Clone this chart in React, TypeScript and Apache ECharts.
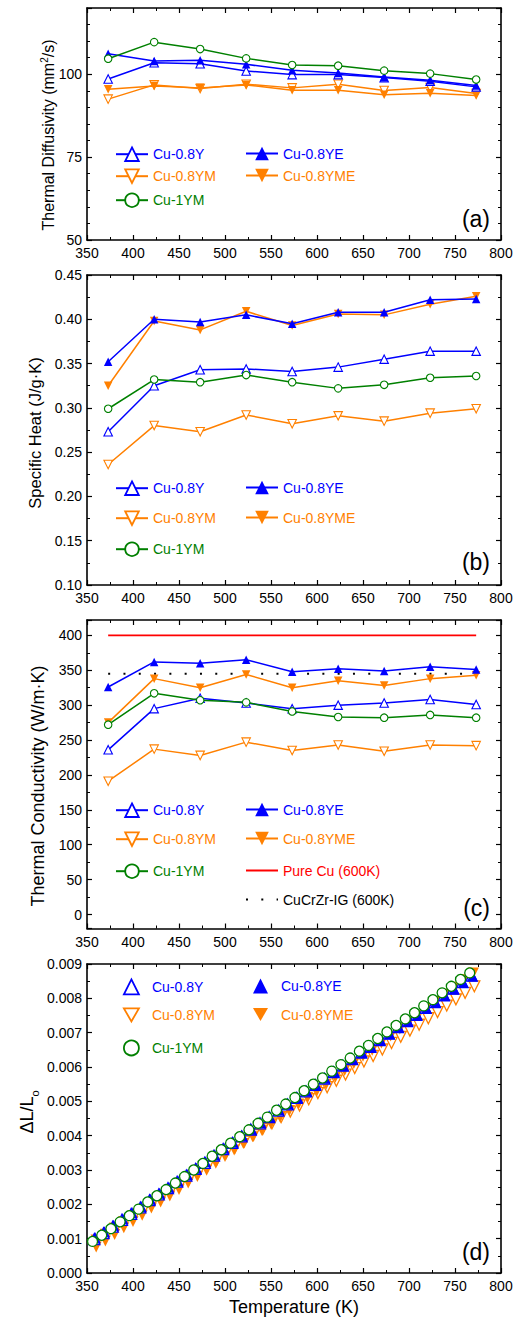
import React, { useEffect, useRef } from 'react';
import * as echarts from 'echarts';

const BLUE = '#0000ff';
const ORANGE = '#ff8000';
const GREEN = '#008000';
const RED = '#ff0000';
const FONT = '"Liberation Sans", Arial, sans-serif';

// ---------- Panels (a)-(c): measurement temperatures (K) ----------
const tempsK = [373, 423, 473, 523, 573, 623, 673, 723, 773];

// (a) Thermal diffusivity (mm^2/s)
const diffY = [98.6, 103.5, 103.2, 101.0, 99.9, 99.9, 99.0, 97.9, 96.2];
const diffYE = [106.2, 104.0, 104.2, 103.0, 101.2, 100.4, 99.2, 98.2, 96.6];
const diffYM = [92.5, 96.8, 95.7, 97.0, 95.9, 97.0, 95.1, 96.0, 94.2];
const diffYME = [95.5, 96.5, 95.9, 96.8, 95.2, 95.2, 93.8, 94.3, 93.6];
const diff1YM = [104.7, 109.7, 107.6, 104.8, 102.8, 102.6, 101.1, 100.2, 98.4];

// (b) Specific heat (J/g·K)
const cpY = [0.273, 0.325, 0.343, 0.344, 0.341, 0.346, 0.355, 0.364, 0.364];
const cpYE = [0.352, 0.4, 0.397, 0.405, 0.395, 0.408, 0.408, 0.422, 0.423];
const cpYM = [0.236, 0.28, 0.273, 0.292, 0.282, 0.291, 0.285, 0.294, 0.299];
const cpYME = [0.325, 0.398, 0.388, 0.409, 0.393, 0.406, 0.405, 0.417, 0.426];
const cp1YM = [0.299, 0.332, 0.329, 0.337, 0.329, 0.322, 0.326, 0.334, 0.336];

// (c) Thermal conductivity (W/m·K)
const kY = [236, 295, 310, 303, 295, 300, 303, 308, 301];
const kYE = [326, 362, 360, 365, 348, 352, 349, 355, 351];
const kYM = [191, 237, 228, 247, 235, 243, 234, 243, 242];
const kYME = [275, 338, 325, 344, 325, 335, 328, 338, 343];
const k1YM = [272, 317, 307, 304, 291, 283, 282, 286, 282];
const refT = [373, 773];
const pureCuK = [400, 400];
const cucrzrK = [345, 345];

// (d) Thermal expansion dL/Lo
const dT1YM = [356, 366, 376, 386, 396, 406, 416, 426, 436, 446, 456, 466, 476, 486, 496, 506, 516, 526, 536, 546, 556, 566, 576, 586, 596, 606, 616, 626, 636, 646, 656, 666, 676, 686, 696, 706, 716, 726, 736, 746, 756, 766];
const dTY = [358, 368, 378, 388, 398, 408, 418, 428, 438, 448, 458, 468, 478, 488, 498, 508, 518, 528, 538, 548, 558, 568, 578, 588, 598, 608, 618, 628, 638, 648, 658, 668, 678, 688, 698, 708, 718, 728, 738, 748, 758, 768];
const dTYE = [359, 369, 379, 389, 399, 409, 419, 429, 439, 449, 459, 469, 479, 489, 499, 509, 519, 529, 539, 549, 559, 569, 579, 589, 599, 609, 619, 629, 639, 649, 659, 669, 679, 689, 699, 709, 719, 729, 739, 749, 759, 769];
const dTYME = [360, 370, 380, 390, 400, 410, 420, 430, 440, 450, 460, 470, 480, 490, 500, 510, 520, 530, 540, 550, 560, 570, 580, 590, 600, 610, 620, 630, 640, 650, 660, 670, 680, 690, 700, 710, 720, 730, 740, 750, 760, 770];
const dTYM = [361, 371, 381, 391, 401, 411, 421, 431, 441, 451, 461, 471, 481, 491, 501, 511, 521, 531, 541, 551, 561, 571, 581, 591, 601, 611, 621, 631, 641, 651, 661, 671, 681, 691, 701, 711, 721, 731, 741, 751, 761, 771];
const dl1YM = [0.00092, 0.0011, 0.00129, 0.00149, 0.00167, 0.00186, 0.00207, 0.00225, 0.00243, 0.00262, 0.00281, 0.003, 0.00319, 0.0034, 0.00359, 0.00378, 0.00397, 0.00417, 0.00436, 0.00454, 0.00474, 0.00492, 0.00511, 0.00531, 0.0055, 0.00568, 0.00588, 0.00607, 0.00626, 0.00646, 0.00663, 0.00683, 0.00702, 0.00721, 0.0074, 0.00758, 0.00778, 0.00796, 0.00816, 0.00835, 0.00855, 0.00874];
const dlYE = [0.00103, 0.0012, 0.00139, 0.00158, 0.00176, 0.00194, 0.00215, 0.00232, 0.0025, 0.00268, 0.00287, 0.00305, 0.00324, 0.00344, 0.00363, 0.00381, 0.004, 0.00419, 0.00438, 0.00455, 0.00475, 0.00492, 0.00511, 0.0053, 0.00549, 0.00567, 0.00586, 0.00604, 0.00623, 0.00642, 0.00659, 0.00679, 0.00697, 0.00716, 0.00734, 0.00752, 0.00771, 0.00789, 0.00808, 0.00827, 0.00846, 0.00865];
const dlY = [0.00099, 0.00116, 0.00135, 0.00155, 0.00172, 0.00191, 0.00212, 0.00229, 0.00247, 0.00266, 0.00284, 0.00303, 0.00321, 0.00342, 0.00361, 0.00379, 0.00398, 0.00418, 0.00436, 0.00454, 0.00473, 0.00491, 0.0051, 0.00529, 0.00548, 0.00566, 0.00585, 0.00604, 0.00623, 0.00642, 0.00659, 0.00678, 0.00697, 0.00716, 0.00734, 0.00752, 0.00772, 0.00789, 0.00809, 0.00828, 0.00847, 0.00866];
const dlYME = [0.00076, 0.00093, 0.00112, 0.00132, 0.0015, 0.00168, 0.00189, 0.00207, 0.00224, 0.00243, 0.00262, 0.00281, 0.00299, 0.0032, 0.00339, 0.00358, 0.00377, 0.00397, 0.00416, 0.00434, 0.00454, 0.00473, 0.00492, 0.00512, 0.00531, 0.0055, 0.0057, 0.0059, 0.0061, 0.00631, 0.00649, 0.0067, 0.0069, 0.00711, 0.00731, 0.0075, 0.00771, 0.00791, 0.00812, 0.00832, 0.00854, 0.00874];
const dlYM = [0.00094, 0.00111, 0.00129, 0.00148, 0.00165, 0.00183, 0.00203, 0.00221, 0.00238, 0.00256, 0.00274, 0.00292, 0.0031, 0.0033, 0.00349, 0.00366, 0.00383, 0.00402, 0.00419, 0.00436, 0.00454, 0.0047, 0.00488, 0.00506, 0.00524, 0.00541, 0.0056, 0.00578, 0.00597, 0.00616, 0.00632, 0.00651, 0.0067, 0.00688, 0.00706, 0.00723, 0.00742, 0.0076, 0.00779, 0.00797, 0.00816, 0.00835];

// ---------- styling ----------
type Sty = { color: string; symbol: string; rotate: number; open: boolean; z: number };
const STY: Record<string, Sty> = {
  'Cu-0.8Y': { color: BLUE, symbol: 'triangle', rotate: 0, open: true, z: 4 },
  'Cu-0.8YE': { color: BLUE, symbol: 'triangle', rotate: 0, open: false, z: 5 },
  'Cu-0.8YM': { color: ORANGE, symbol: 'triangle', rotate: 180, open: true, z: 2 },
  'Cu-0.8YME': { color: ORANGE, symbol: 'triangle', rotate: 180, open: false, z: 3 },
  'Cu-1YM': { color: GREEN, symbol: 'circle', rotate: 0, open: true, z: 6 },
};
const DOWN_TRIANGLE = 'path://M0,0L30,0L15,26Z';

const GRIDS = [
  { top: 8, height: 232 },
  { top: 275, height: 310 },
  { top: 620, height: 308.5 },
  { top: 964, height: 309 },
];

const axisLine = { show: true, onZero: false, lineStyle: { color: '#000', width: 1.6 } };
const axisTick = { show: true, inside: true, length: 5, lineStyle: { color: '#000', width: 1.2 } };
const minorTick = (n: number) => ({ show: true, splitNumber: n, length: 3, lineStyle: { color: '#000', width: 1 } });
const labelStyle = { fontSize: 14, color: '#000', fontFamily: FONT };

function xAxes(g: number) {
  const base: any = {
    type: 'value', gridIndex: g, min: 350, max: 800, interval: 50,
    axisLine, axisTick, minorTick: minorTick(2), splitLine: { show: false },
  };
  return [
    { ...base, position: 'bottom', axisLabel: { ...labelStyle, show: true, margin: 6 } },
    { ...base, position: 'top', axisLabel: { show: false } },
  ];
}

function yAxes(g: number, cfg: any, minorN: number, fmt: (v: number) => string) {
  const base: any = {
    type: 'value', gridIndex: g, axisLine, axisTick, minorTick: minorTick(minorN), splitLine: { show: false }, ...cfg,
  };
  return [
    {
      ...base, position: 'left',
      axisLabel: { ...labelStyle, show: true, margin: 5, formatter: fmt, showMinLabel: cfg.showMinLabel, showMaxLabel: cfg.showMaxLabel },
    },
    { ...base, position: 'right', axisLabel: { show: false } },
  ];
}

function lineSeries(panel: string, name: string, g: number, xs: number[], ys: number[]) {
  const s = STY[name];
  return {
    type: 'line', name: panel + ':' + name, xAxisIndex: g * 2, yAxisIndex: g * 2,
    data: xs.map((x, i) => [x, ys[i]]),
    symbol: s.symbol, symbolRotate: s.rotate, symbolSize: s.symbol === 'circle' ? 7.5 : 8.5,
    lineStyle: { color: s.color, width: 1.5 },
    itemStyle: { color: s.open ? '#fff' : s.color, borderColor: s.color, borderWidth: s.open ? 1.1 : 0 },
    z: s.z, animation: false,
  };
}

function scatterSeries(name: string, xs: number[], ys: number[]) {
  const s = STY[name];
  return {
    type: 'scatter', name: 'd:' + name, xAxisIndex: 6, yAxisIndex: 6,
    data: xs.map((x, i) => [x, ys[i]]),
    symbol: s.symbol, symbolRotate: s.rotate, symbolSize: s.symbol === 'circle' ? 10 : 11,
    itemStyle: { color: s.open ? '#fff' : s.color, borderColor: s.color, borderWidth: s.open ? 1.3 : 0, opacity: 1 },
    z: s.z, animation: false,
  };
}

function legend(seriesName: string, color: string, left: number, cy: number, opts: any = {}) {
  const scatter = !!opts.scatter;
  const ih = scatter ? 15 : 17;
  const itemStyle: any = {};
  if (opts.hideSymbol) itemStyle.opacity = 0;
  else itemStyle.borderWidth = opts.open ? 1.8 : 0;
  return {
    show: true, left, top: cy - ih / 2, padding: 0, orient: 'horizontal',
    itemWidth: scatter ? 15 : 32, itemHeight: ih, symbolKeepAspect: true,
    data: [opts.icon ? { name: seriesName, icon: opts.icon } : seriesName], selectedMode: false,
    formatter: (n: string) => n.slice(n.indexOf(':') + 1),
    textStyle: { color, fontSize: 14, fontFamily: FONT, padding: scatter ? [0, 0, 0, 8] : 0 },
    itemStyle,
  };
}

const COL1 = 115;
const COL2 = 245;
const ROWS_A = [155, 177, 201];
const ROWS_B = [489, 519, 550];
const ROWS_C = [811, 840, 872, 901];
const ROWS_D = [986, 1015, 1047];

function legendSet(panel: string, rows: number[], scatter = false) {
  const c1 = scatter ? 123 : COL1;
  const c2 = scatter ? 253 : COL2;
  const down = scatter ? DOWN_TRIANGLE : undefined;
  return [
    legend(panel + ':Cu-0.8Y', BLUE, c1, rows[0], { open: true, scatter }),
    legend(panel + ':Cu-0.8YE', BLUE, c2, rows[0], { open: false, scatter }),
    legend(panel + ':Cu-0.8YM', ORANGE, c1, rows[1], { open: true, scatter, icon: down }),
    legend(panel + ':Cu-0.8YME', ORANGE, c2, rows[1], { open: false, scatter, icon: down }),
    legend(panel + ':Cu-1YM', GREEN, c1, rows[2], { open: true, scatter }),
  ];
}

function vTitle(x: number, y: number, text: string, rich: any) {
  return {
    type: 'text', x, y, rotation: Math.PI / 2,
    style: { text, rich, align: 'center', verticalAlign: 'middle', fontFamily: FONT, fill: '#000' },
  };
}

function panelLabel(y: number, t: string) {
  return {
    type: 'text', x: 490, y,
    style: { text: t, fontSize: 23, fontFamily: FONT, fill: '#000', align: 'right', verticalAlign: 'middle' },
  };
}

export default function App() {
  const ref = useRef<HTMLDivElement>(null);
  useEffect(() => {
    if (!ref.current) return;
    const chart = echarts.init(ref.current, null, { renderer: 'svg' });
    const names = ['Cu-0.8Y', 'Cu-0.8YE', 'Cu-0.8YM', 'Cu-0.8YME', 'Cu-1YM'];
    const aData = [diffY, diffYE, diffYM, diffYME, diff1YM];
    const bData = [cpY, cpYE, cpYM, cpYME, cp1YM];
    const cData = [kY, kYE, kYM, kYME, k1YM];
    const dX = [dTY, dTYE, dTYM, dTYME, dT1YM];
    const dY = [dlY, dlYE, dlYM, dlYME, dl1YM];

    const series: any[] = [];
    names.forEach((n, i) => series.push(lineSeries('a', n, 0, tempsK, aData[i])));
    names.forEach((n, i) => series.push(lineSeries('b', n, 1, tempsK, bData[i])));
    names.forEach((n, i) => series.push(lineSeries('c', n, 2, tempsK, cData[i])));
    series.push({
      type: 'line', name: 'c:Pure Cu (600K)', xAxisIndex: 4, yAxisIndex: 4,
      data: refT.map((x, i) => [x, pureCuK[i]]), symbol: 'none',
      lineStyle: { color: RED, width: 1.6 }, itemStyle: { color: RED }, z: 1,
    });
    series.push({
      type: 'line', name: 'c:CuCrZr-IG (600K)', xAxisIndex: 4, yAxisIndex: 4,
      data: refT.map((x, i) => [x, cucrzrK[i]]), symbol: 'none',
      lineStyle: { color: '#000', width: 2, type: [2, 13.3] }, itemStyle: { color: '#000' }, z: 1,
    });
    names.forEach((n, i) => series.push(scatterSeries(n, dX[i], dY[i])));

    const legends: any[] = [
      ...legendSet('a', ROWS_A),
      ...legendSet('b', ROWS_B),
      ...legendSet('c', ROWS_C),
      legend('c:Pure Cu (600K)', RED, COL2, ROWS_C[2], { hideSymbol: true }),
      legend('c:CuCrZr-IG (600K)', '#000', COL2, ROWS_C[3], { hideSymbol: true }),
      ...legendSet('d', ROWS_D, true),
    ];

    const option: any = {
      animation: false,
      backgroundColor: '#fff',
      textStyle: { fontFamily: FONT },
      grid: GRIDS.map((g) => ({ left: 87, right: 12, top: g.top, height: g.height, outerBoundsMode: 'none', containLabel: false })),
      xAxis: [...xAxes(0), ...xAxes(1), ...xAxes(2), ...xAxes(3)],
      yAxis: [
        ...yAxes(0, { min: 50, max: 120, interval: 25, showMaxLabel: false }, 5, (v) => String(v)),
        ...yAxes(1, { min: 0.1, max: 0.45, interval: 0.05 }, 2, (v) => v.toFixed(2)),
        ...yAxes(2, { min: -20, max: 422, splitNumber: 9, minInterval: 50, maxInterval: 50, showMinLabel: false, showMaxLabel: false }, 2, (v) => String(Math.round(v))),
        ...yAxes(3, { min: 0, max: 0.009, interval: 0.001 }, 2, (v) => v.toFixed(3)),
      ],
      legend: legends,
      series,
      graphic: [
        vTitle(46, 135, '{a|Thermal Diffusivity (mm}{s|2}{a|/s)}', {
          a: { fontSize: 16, fontFamily: FONT, lineHeight: 20, verticalAlign: 'bottom' },
          s: { fontSize: 10, fontFamily: FONT, lineHeight: 20, verticalAlign: 'bottom', padding: [0, 0, 7, 0] },
        }),
        vTitle(35, 433, '{a|Specific Heat (J/g·K)}', { a: { fontSize: 16.5, fontFamily: FONT } }),
        vTitle(38, 786, '{a|Thermal Conductivity (W/m·K)}', { a: { fontSize: 18, fontFamily: FONT } }),
        vTitle(25, 1112, '{a|ΔL/L}{s|o}', {
          a: { fontSize: 18, fontFamily: FONT, lineHeight: 22, verticalAlign: 'bottom' },
          s: { fontSize: 11, fontFamily: FONT, lineHeight: 22, verticalAlign: 'bottom', padding: [0, 0, -4, 0] },
        }),
        {
          type: 'text', x: 294, y: 1307,
          style: { text: 'Temperature (K)', fontSize: 18, fontFamily: FONT, fill: '#000', align: 'center', verticalAlign: 'middle' },
        },
        panelLabel(219, '(a)'),
        panelLabel(562, '(b)'),
        panelLabel(908, '(c)'),
        panelLabel(1252, '(d)'),
      ],
    };
    chart.setOption(option);
    return () => chart.dispose();
  }, []);
  return <div ref={ref} style={{ position: 'absolute', left: 0, top: 0, width: 513, height: 1318, background: '#fff' }} />;
}
